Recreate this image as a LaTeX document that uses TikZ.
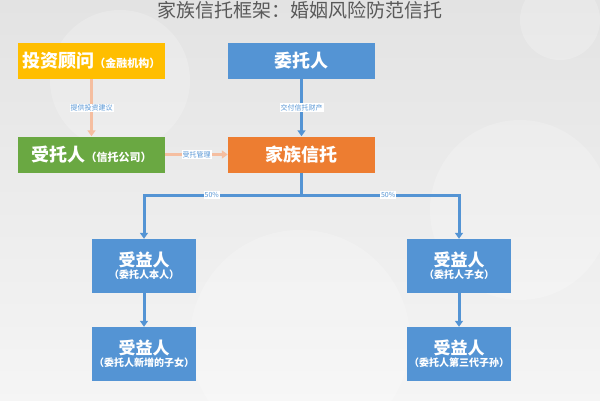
\documentclass[tikz,border=0pt]{standalone}
\usepackage{fontspec}
\setmainfont{Noto Sans CJK SC}
\usetikzlibrary{arrows.meta}
\definecolor{trustblue}{RGB}{84,148,212}
\definecolor{trustorange}{RGB}{237,125,49}
\definecolor{trustgreen}{RGB}{106,168,66}
\definecolor{trustyellow}{RGB}{255,190,0}
\definecolor{linkpeach}{RGB}{245,190,160}
\tikzset{
  box/.style={minimum width=147pt,minimum height=36pt,text=white,font=\bfseries\fontsize{18}{20}\selectfont,inner sep=0pt},
  benbox/.style={fill=trustblue,minimum width=104pt,minimum height=54pt,text=white,align=center,inner sep=0pt},
  lbl/.style={fill=white,text=trustblue,font=\fontsize{7}{8}\selectfont,inner sep=1pt}
}
\begin{document}
\begin{tikzpicture}[x=1pt,y=-1pt]
  \useasboundingbox (0,0) rectangle (600,400);
  \shade[top color=gray!22,bottom color=gray!8] (0,0) rectangle (600,400);
  \fill[white,opacity=.2] (120,80) circle (70);
  \fill[white,opacity=.2] (520,210) circle (90);
  \fill[white,opacity=.2] (560,20) circle (40);
  \fill[white,opacity=.2] (300,340) circle (110);
  \node[text=gray!70!black,font=\fontsize{19}{21}\selectfont] (title) at (300,10) {家族信托框架：婚姻风险防范信托};
  \node[box,fill=trustyellow] (advisor) at (91.5,61) {投资顾问\fontsize{11}{12}\selectfont（金融机构）};
  \node[box,fill=trustblue] (settlor) at (301.5,61) {委托人};
  \node[box,fill=trustgreen] (trustee) at (91.5,154.5) {受托人\fontsize{11}{12}\selectfont（信托公司）};
  \node[box,fill=trustorange] (trust) at (301.5,154.5) {家族信托};
  \node[benbox] (self) at (144,266) {\bfseries\fontsize{17}{19}\selectfont 受益人\\\bfseries\fontsize{10}{12}\selectfont（委托人本人）};
  \node[benbox] (newkid) at (144,354) {\bfseries\fontsize{17}{19}\selectfont 受益人\\\bfseries\fontsize{10}{12}\selectfont（委托人新增的子女）};
  \node[benbox] (kid) at (459,266) {\bfseries\fontsize{17}{19}\selectfont 受益人\\\bfseries\fontsize{10}{12}\selectfont（委托人子女）};
  \node[benbox] (grandkid) at (459,354) {\bfseries\fontsize{17}{19}\selectfont 受益人\\\bfseries\fontsize{10}{12}\selectfont（委托人第三代子孙）};
  \coordinate (split) at (301.5,195);
  \draw[linkpeach,line width=3pt,-{Triangle[length=6pt,width=8pt]}] (advisor) -- node[lbl] {提供投资建议} (trustee);
  \draw[linkpeach,line width=3pt,-{Triangle[length=6pt,width=8pt]}] (trustee) -- node[lbl] {受托管理} (trust);
  \draw[trustblue,line width=3pt,-{Triangle[length=6pt,width=8pt]}] (settlor) -- node[lbl] {交付信托财产} (trust);
  \draw[trustblue,line width=3pt] (trust) -- (split);
  \draw[trustblue,line width=3pt,-{Triangle[length=6pt,width=8pt]}] (split) -- node[lbl,pos=.57] {50\%} (144,195) -- (self);
  \draw[trustblue,line width=3pt,-{Triangle[length=6pt,width=8pt]}] (split) -- node[lbl,pos=.55] {50\%} (459,195) -- (kid);
  \draw[trustblue,line width=3pt,-{Triangle[length=6pt,width=8pt]}] (self) -- (newkid);
  \draw[trustblue,line width=3pt,-{Triangle[length=6pt,width=8pt]}] (kid) -- (grandkid);
\end{tikzpicture}
\end{document}
